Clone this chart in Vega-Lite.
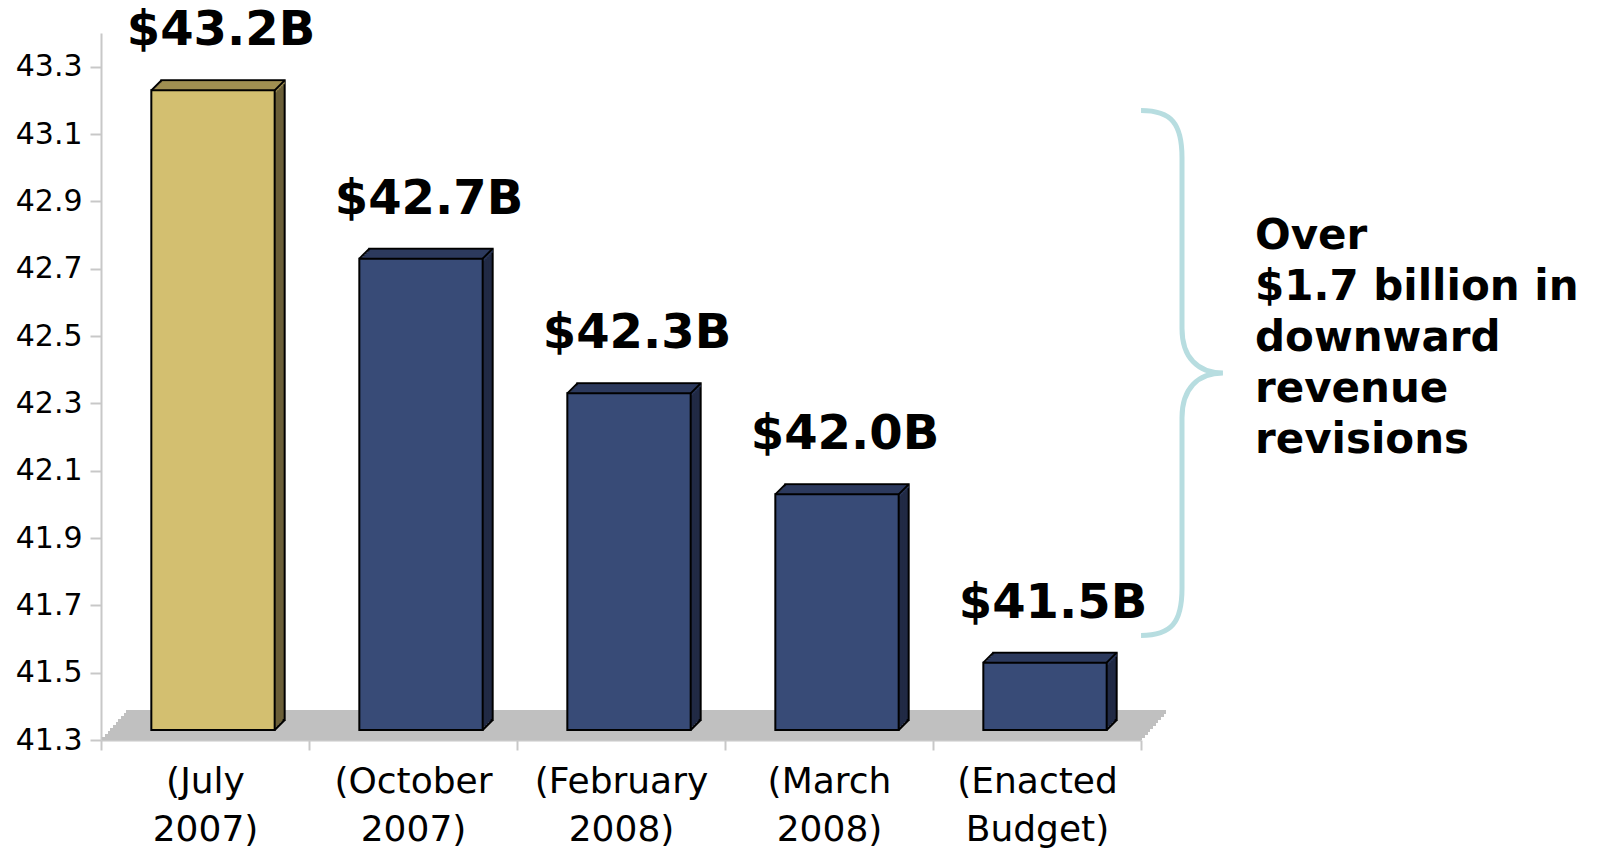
{
  "$schema": "https://vega.github.io/schema/vega-lite/v6.json",
  "width": 1040,
  "height": 707,
  "autosize": {"type": "none"},
  "padding": {"left": 101, "top": 33, "right": 457, "bottom": 108},
  "background": "white",
  "config": {"view": {"stroke": null}, "font": "DejaVu Sans"},
  "data": {"values": [
    {"label": "(July 2007)", "value": 43.2, "display": "$43.2B", "stage": "Initial"},
    {"label": "(October 2007)", "value": 42.7, "display": "$42.7B", "stage": "Revised"},
    {"label": "(February 2008)", "value": 42.3, "display": "$42.3B", "stage": "Revised"},
    {"label": "(March 2008)", "value": 42.0, "display": "$42.0B", "stage": "Revised"},
    {"label": "(Enacted Budget)", "value": 41.5, "display": "$41.5B", "stage": "Revised"}
  ]},
  "layer": [
    {"data": {"values": [{}]}, "mark": {"type": "rect", "fill": "#C0C0C0", "yOffset": -3, "y2Offset": 0, "xOffset": 1, "x2Offset": 1},
     "encoding": {"x": {"value": 0}, "x2": {"value": "width"}, "y": {"datum": 41.3, "type": "quantitative"}, "y2": {"datum": 41.3}}},
    {"data": {"values": [{}]}, "mark": {"type": "rect", "fill": "#C0C0C0", "yOffset": -6, "y2Offset": -2, "xOffset": 4, "x2Offset": 4},
     "encoding": {"x": {"value": 0}, "x2": {"value": "width"}, "y": {"datum": 41.3, "type": "quantitative"}, "y2": {"datum": 41.3}}},
    {"data": {"values": [{}]}, "mark": {"type": "rect", "fill": "#C0C0C0", "yOffset": -9, "y2Offset": -5, "xOffset": 7, "x2Offset": 7},
     "encoding": {"x": {"value": 0}, "x2": {"value": "width"}, "y": {"datum": 41.3, "type": "quantitative"}, "y2": {"datum": 41.3}}},
    {"data": {"values": [{}]}, "mark": {"type": "rect", "fill": "#C0C0C0", "yOffset": -12, "y2Offset": -8, "xOffset": 9, "x2Offset": 9},
     "encoding": {"x": {"value": 0}, "x2": {"value": "width"}, "y": {"datum": 41.3, "type": "quantitative"}, "y2": {"datum": 41.3}}},
    {"data": {"values": [{}]}, "mark": {"type": "rect", "fill": "#C0C0C0", "yOffset": -15, "y2Offset": -11, "xOffset": 12, "x2Offset": 12},
     "encoding": {"x": {"value": 0}, "x2": {"value": "width"}, "y": {"datum": 41.3, "type": "quantitative"}, "y2": {"datum": 41.3}}},
    {"data": {"values": [{}]}, "mark": {"type": "rect", "fill": "#C0C0C0", "yOffset": -18, "y2Offset": -14, "xOffset": 15, "x2Offset": 15},
     "encoding": {"x": {"value": 0}, "x2": {"value": "width"}, "y": {"datum": 41.3, "type": "quantitative"}, "y2": {"datum": 41.3}}},
    {"data": {"values": [{}]}, "mark": {"type": "rect", "fill": "#C0C0C0", "yOffset": -21, "y2Offset": -17, "xOffset": 17, "x2Offset": 17},
     "encoding": {"x": {"value": 0}, "x2": {"value": "width"}, "y": {"datum": 41.3, "type": "quantitative"}, "y2": {"datum": 41.3}}},
    {"data": {"values": [{}]}, "mark": {"type": "rect", "fill": "#C0C0C0", "yOffset": -24, "y2Offset": -20, "xOffset": 20, "x2Offset": 20},
     "encoding": {"x": {"value": 0}, "x2": {"value": "width"}, "y": {"datum": 41.3, "type": "quantitative"}, "y2": {"datum": 41.3}}},
    {"data": {"values": [{}]}, "mark": {"type": "rect", "fill": "#C0C0C0", "yOffset": -27, "y2Offset": -23, "xOffset": 23, "x2Offset": 23},
     "encoding": {"x": {"value": 0}, "x2": {"value": "width"}, "y": {"datum": 41.3, "type": "quantitative"}, "y2": {"datum": 41.3}}},
    {"data": {"values": [{}]}, "mark": {"type": "rect", "fill": "#C0C0C0", "yOffset": -30, "y2Offset": -26, "xOffset": 25, "x2Offset": 25},
     "encoding": {"x": {"value": 0}, "x2": {"value": "width"}, "y": {"datum": 41.3, "type": "quantitative"}, "y2": {"datum": 41.3}}},

    {"mark": {"type": "bar", "width": {"band": 0.593}, "xOffset": 18, "x2Offset": 18, "yOffset": -20, "y2Offset": -20, "stroke": "black", "strokeWidth": 2},
     "encoding": {
       "x": {"field": "label", "type": "nominal", "sort": null,
             "scale": {"domain": ["(July 2007)", "(October 2007)", "(February 2008)", "(March 2008)", "(Enacted Budget)"], "paddingInner": 0, "paddingOuter": 0},
             "axis": {"title": null, "labelAngle": 0, "labelFont": "DejaVu Sans", "labelFontSize": 36, "labelColor": "#000000",
                      "labelExpr": "split(datum.label, ' ')", "labelLineHeight": 48, "labelPadding": 14, "labelOverlap": false, "labelLimit": 0,
                      "tickBand": "extent", "tickSize": 10, "tickWidth": 2, "tickColor": "#C8C8C8",
                      "domainColor": "#C8C8C8", "domainWidth": 2, "grid": false}},
       "y": {"field": "value", "type": "quantitative",
             "scale": {"domain": [41.3, 43.4], "nice": false, "zero": false},
             "axis": {"title": null, "values": [41.3, 41.5, 41.7, 41.9, 42.1, 42.3, 42.5, 42.7, 42.9, 43.1, 43.3], "format": ".1f",
                      "labelFont": "DejaVu Sans", "labelFontSize": 30, "labelColor": "#000000", "labelPadding": 8,
                      "tickSize": 11, "tickWidth": 2, "tickColor": "#C8C8C8", "domainColor": "#C8C8C8", "domainWidth": 2, "grid": false}},
       "y2": {"datum": 41.3},
       "fill": {"condition": {"test": "datum.stage === 'Initial'", "value": "#6B5F38"}, "value": "#212A45"}
     }},
    {"mark": {"type": "bar", "width": {"band": 0.593}, "xOffset": 16, "x2Offset": 16, "yOffset": -18, "y2Offset": -18},
     "encoding": {"x": {"field": "label", "type": "nominal", "sort": null}, "y": {"field": "value", "type": "quantitative"}, "y2": {"datum": 41.3},
       "fill": {"condition": {"test": "datum.stage === 'Initial'", "value": "#6B5F38"}, "value": "#212A45"}}},
    {"mark": {"type": "bar", "width": {"band": 0.593}, "xOffset": 14, "x2Offset": 14, "yOffset": -16, "y2Offset": -16},
     "encoding": {"x": {"field": "label", "type": "nominal", "sort": null}, "y": {"field": "value", "type": "quantitative"}, "y2": {"datum": 41.3},
       "fill": {"condition": {"test": "datum.stage === 'Initial'", "value": "#6B5F38"}, "value": "#212A45"}}},
    {"mark": {"type": "bar", "width": {"band": 0.593}, "xOffset": 12, "x2Offset": 12, "yOffset": -14, "y2Offset": -14},
     "encoding": {"x": {"field": "label", "type": "nominal", "sort": null}, "y": {"field": "value", "type": "quantitative"}, "y2": {"datum": 41.3},
       "fill": {"condition": {"test": "datum.stage === 'Initial'", "value": "#6B5F38"}, "value": "#212A45"}}},
    {"mark": {"type": "bar", "width": {"band": 0.593}, "xOffset": 10, "x2Offset": 10, "yOffset": -12, "y2Offset": -12},
     "encoding": {"x": {"field": "label", "type": "nominal", "sort": null}, "y": {"field": "value", "type": "quantitative"}, "y2": {"datum": 41.3},
       "fill": {"condition": {"test": "datum.stage === 'Initial'", "value": "#6B5F38"}, "value": "#212A45"}}},

    {"mark": {"type": "bar", "width": {"band": 0.593}, "xOffset": 18, "x2Offset": 18, "yOffset": -19, "y2Offset": -16},
     "encoding": {"x": {"field": "label", "type": "nominal", "sort": null}, "y": {"field": "value", "type": "quantitative"}, "y2": {"field": "value"},
       "fill": {"condition": {"test": "datum.stage === 'Initial'", "value": "#A08F52"}, "value": "#2C3A5E"}}},
    {"mark": {"type": "bar", "width": {"band": 0.593}, "xOffset": 16, "x2Offset": 16, "yOffset": -17, "y2Offset": -14},
     "encoding": {"x": {"field": "label", "type": "nominal", "sort": null}, "y": {"field": "value", "type": "quantitative"}, "y2": {"field": "value"},
       "fill": {"condition": {"test": "datum.stage === 'Initial'", "value": "#A08F52"}, "value": "#2C3A5E"}}},
    {"mark": {"type": "bar", "width": {"band": 0.593}, "xOffset": 14, "x2Offset": 14, "yOffset": -15, "y2Offset": -12},
     "encoding": {"x": {"field": "label", "type": "nominal", "sort": null}, "y": {"field": "value", "type": "quantitative"}, "y2": {"field": "value"},
       "fill": {"condition": {"test": "datum.stage === 'Initial'", "value": "#A08F52"}, "value": "#2C3A5E"}}},
    {"mark": {"type": "bar", "width": {"band": 0.593}, "xOffset": 12, "x2Offset": 12, "yOffset": -13, "y2Offset": -10},
     "encoding": {"x": {"field": "label", "type": "nominal", "sort": null}, "y": {"field": "value", "type": "quantitative"}, "y2": {"field": "value"},
       "fill": {"condition": {"test": "datum.stage === 'Initial'", "value": "#A08F52"}, "value": "#2C3A5E"}}},
    {"mark": {"type": "bar", "width": {"band": 0.593}, "xOffset": 10, "x2Offset": 10, "yOffset": -11, "y2Offset": -8},
     "encoding": {"x": {"field": "label", "type": "nominal", "sort": null}, "y": {"field": "value", "type": "quantitative"}, "y2": {"field": "value"},
       "fill": {"condition": {"test": "datum.stage === 'Initial'", "value": "#A08F52"}, "value": "#2C3A5E"}}},

    {"mark": {"type": "rule", "color": "#000000", "strokeWidth": 2, "xOffset": 8, "x2Offset": 18, "yOffset": -10, "y2Offset": -20},
     "encoding": {"x": {"field": "label", "type": "nominal", "sort": null, "bandPosition": 0.2035}, "x2": {"field": "label", "bandPosition": 0.2035},
       "y": {"field": "value", "type": "quantitative"}, "y2": {"field": "value"}}},
    {"mark": {"type": "rule", "color": "#000000", "strokeWidth": 2, "xOffset": 8, "x2Offset": 18, "yOffset": -10, "y2Offset": -20},
     "encoding": {"x": {"field": "label", "type": "nominal", "sort": null, "bandPosition": 0.7965}, "x2": {"field": "label", "bandPosition": 0.7965},
       "y": {"field": "value", "type": "quantitative"}, "y2": {"field": "value"}}},
    {"mark": {"type": "rule", "color": "#000000", "strokeWidth": 2, "xOffset": 8, "x2Offset": 18, "yOffset": -10, "y2Offset": -20},
     "encoding": {"x": {"field": "label", "type": "nominal", "sort": null, "bandPosition": 0.7965}, "x2": {"field": "label", "bandPosition": 0.7965},
       "y": {"datum": 41.3, "type": "quantitative"}, "y2": {"datum": 41.3}}},

    {"mark": {"type": "bar", "width": {"band": 0.593}, "xOffset": 8, "x2Offset": 8, "yOffset": -10, "y2Offset": -10, "stroke": "black", "strokeWidth": 2},
     "encoding": {"x": {"field": "label", "type": "nominal", "sort": null}, "y": {"field": "value", "type": "quantitative"}, "y2": {"datum": 41.3},
       "fill": {"condition": {"test": "datum.stage === 'Initial'", "value": "#D3BF70"}, "value": "#384B77"}}},

    {"mark": {"type": "text", "font": "DejaVu Sans", "fontWeight": "bold", "fontSize": 48, "align": "center", "baseline": "alphabetic", "dx": 16, "dy": -55, "color": "#000000"},
     "encoding": {"x": {"field": "label", "type": "nominal", "sort": null}, "y": {"field": "value", "type": "quantitative"}, "text": {"field": "display"}}},

    {"data": {"values": [{"label": "(Enacted Budget)"}]},
     "mark": {"type": "point", "shape": "M -0.156 -1 C -0.04 -1 0 -0.95 0 -0.82 L 0 -0.17 C 0 -0.06 0.06 0 0.156 0 C 0.06 0 0 0.06 0 0.17 L 0 0.82 C 0 0.95 -0.04 1 -0.156 1",
              "size": 275625, "filled": false, "stroke": "#B7DDE0", "strokeWidth": 5, "opacity": 1, "xOffset": 145},
     "encoding": {"x": {"field": "label", "type": "nominal", "sort": null}, "y": {"datum": 42.39, "type": "quantitative"}}},

    {"data": {"values": [{"label": "(Enacted Budget)", "note": ["Over", "$1.7 billion in", "downward", "revenue", "revisions"]}]},
     "mark": {"type": "text", "font": "DejaVu Sans", "fontWeight": "bold", "fontSize": 42, "lineHeight": 51, "align": "left", "baseline": "alphabetic", "dx": 218, "color": "#000000"},
     "encoding": {"x": {"field": "label", "type": "nominal", "sort": null}, "y": {"datum": 42.758, "type": "quantitative"}, "text": {"field": "note"}}}
  ]
}
